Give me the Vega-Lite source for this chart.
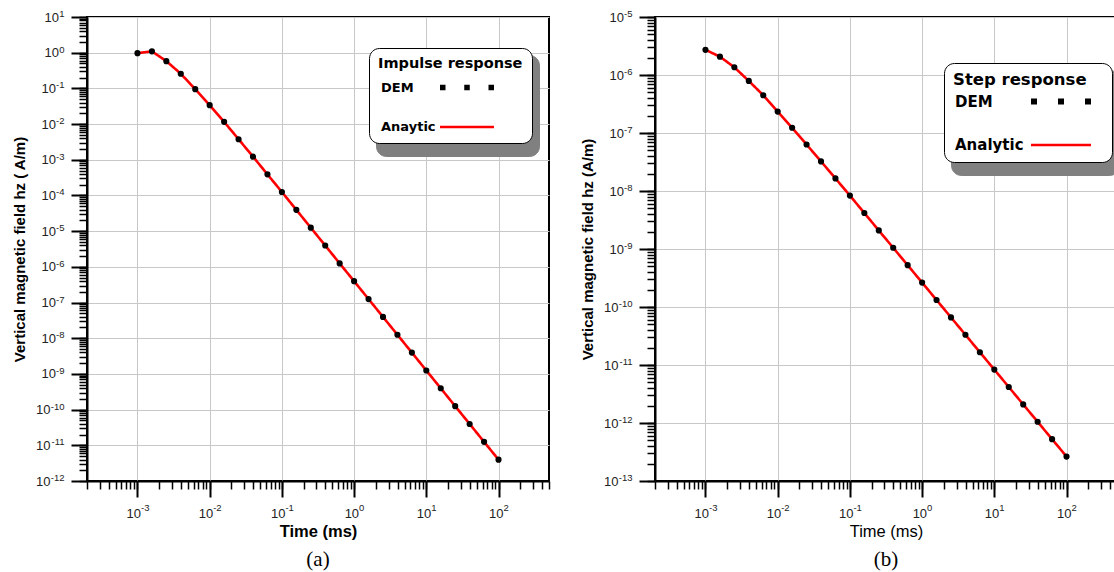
{
  "$schema": "https://vega.github.io/schema/vega-lite/v6.json",
  "autosize": {"type": "pad"},
  "padding": {"left": 11, "top": 7, "right": 0, "bottom": 0},
  "bounds": "flush",
  "spacing": 106,
  "background": "white",
  "resolve": {
    "scale": {"color": "independent", "opacity": "independent", "strokeDash": "independent", "strokeWidth": "independent"},
    "legend": {"color": "independent", "opacity": "independent", "strokeDash": "independent", "strokeWidth": "independent"}
  },
  "config": {
    "view": {"stroke": "black", "strokeWidth": 2},
    "font": "Liberation Sans",
    "axis": {
      "domainColor": "black",
      "domainWidth": 2,
      "tickColor": "black",
      "gridColor": "#c8c8c8",
      "gridWidth": 1,
      "labelFont": "Liberation Sans",
      "labelFontSize": 13,
      "labelColor": "#222222",
      "titleFont": "Liberation Sans",
      "titleColor": "black",
      "labelOverlap": false,
      "labelFlush": false,
      "labelBound": false
    },
    "legend": {
      "orient": "none",
      "cornerRadius": 10,
      "padding": 9,
      "titleFont": "DejaVu Sans",
      "titleFontWeight": "bold",
      "titleLimit": 400,
      "labelFont": "DejaVu Sans",
      "labelFontWeight": "bold",
      "labelLimit": 300,
      "symbolType": "stroke"
    }
  },
  "datasets": {
    "impulse": [
      {"t": 0.001, "h": 0.97},
      {"t": 0.001585, "h": 1.09},
      {"t": 0.002512, "h": 0.58},
      {"t": 0.003981, "h": 0.257},
      {"t": 0.00631, "h": 0.0953},
      {"t": 0.01, "h": 0.0339},
      {"t": 0.01585, "h": 0.01153},
      {"t": 0.02512, "h": 0.00376},
      {"t": 0.03981, "h": 0.001225},
      {"t": 0.0631, "h": 0.00039},
      {"t": 0.1, "h": 0.000125},
      {"t": 0.1585, "h": 3.96e-5},
      {"t": 0.2512, "h": 1.25e-5},
      {"t": 0.3981, "h": 3.96e-6},
      {"t": 0.631, "h": 1.25e-6},
      {"t": 1, "h": 3.96e-7},
      {"t": 1.585, "h": 1.25e-7},
      {"t": 2.512, "h": 3.96e-8},
      {"t": 3.981, "h": 1.25e-8},
      {"t": 6.31, "h": 3.96e-9},
      {"t": 10, "h": 1.25e-9},
      {"t": 15.85, "h": 3.96e-10},
      {"t": 25.12, "h": 1.25e-10},
      {"t": 39.81, "h": 3.96e-11},
      {"t": 63.1, "h": 1.25e-11},
      {"t": 100, "h": 3.96e-12}
    ],
    "step": [
      {"t": 0.001, "h": 2.72e-6},
      {"t": 0.001585, "h": 2.07e-6},
      {"t": 0.002512, "h": 1.36e-6},
      {"t": 0.003981, "h": 7.9e-7},
      {"t": 0.00631, "h": 4.48e-7},
      {"t": 0.01, "h": 2.34e-7},
      {"t": 0.01585, "h": 1.23e-7},
      {"t": 0.02512, "h": 6.34e-8},
      {"t": 0.03981, "h": 3.24e-8},
      {"t": 0.0631, "h": 1.65e-8},
      {"t": 0.1, "h": 8.34e-9},
      {"t": 0.1585, "h": 4.18e-9},
      {"t": 0.2512, "h": 2.09e-9},
      {"t": 0.3981, "h": 1.05e-9},
      {"t": 0.631, "h": 5.26e-10},
      {"t": 1, "h": 2.64e-10},
      {"t": 1.585, "h": 1.32e-10},
      {"t": 2.512, "h": 6.62e-11},
      {"t": 3.981, "h": 3.32e-11},
      {"t": 6.31, "h": 1.66e-11},
      {"t": 10, "h": 8.34e-12},
      {"t": 15.85, "h": 4.18e-12},
      {"t": 25.12, "h": 2.09e-12},
      {"t": 39.81, "h": 1.05e-12},
      {"t": 63.1, "h": 5.26e-13},
      {"t": 100, "h": 2.64e-13}
    ]
  },
  "hconcat": [
    {
      "width": 462,
      "height": 464,
      "title": {"text": "(a)", "orient": "bottom", "anchor": "middle", "font": "Liberation Serif", "fontSize": 21, "fontWeight": "normal", "color": "black", "offset": 9},
      "data": {"name": "impulse"},
      "resolve": {"axis": {"x": "independent", "y": "independent"}},
      "layer": [
        {
          "mark": {"type": "line", "strokeCap": "round"},
          "encoding": {
            "x": {
              "field": "t", "type": "quantitative",
              "scale": {"type": "log", "domain": [0.0002, 500], "nice": false},
              "axis": {
                "orient": "bottom", "values": [0.001, 0.01, 0.1, 1, 10, 100],
                "grid": true, "tickSize": 16, "tickWidth": 2,
                "labelExpr": "'10'", "labelAlign": "right", "labelPadding": 10,
                "labelOffset": {"condition": {"test": "datum.value >= 1", "value": 4.5}, "value": 3},
                "title": "Time (ms)", "titleFontSize": 16.5, "titleFontWeight": "bold", "titlePadding": 3
              }
            },
            "y": {
              "field": "h", "type": "quantitative",
              "scale": {"type": "log", "domain": [1e-12, 10], "nice": false},
              "axis": {
                "orient": "left",
                "values": [1e-12, 1e-11, 1e-10, 1e-9, 1e-8, 1e-7, 1e-6, 1e-5, 1e-4, 1e-3, 1e-2, 1e-1, 1, 10],
                "grid": true, "tickSize": 16, "tickWidth": 2,
                "labelExpr": "'10'", "labelAlign": "right", "labelBaseline": "middle",
                "labelPadding": {"condition": [{"test": "datum.value >= 1", "value": 12.5}, {"test": "datum.value < 5e-10", "value": 21}], "value": 15.6},
                "title": "Vertical magnetic field hz ( A/m)", "titleFontSize": 15, "titleFontWeight": "bold", "titlePadding": 8
              }
            },
            "color": {
              "datum": "Anaytic", "type": "nominal",
              "scale": {"domain": ["DEM", "Anaytic"], "range": ["black", "red"]},
              "legend": {
                "title": "Impulse response", "legendX": 282, "legendY": 31, "zindex": 2,
                "fillColor": "white", "strokeColor": "black",
                "titleFontSize": 14.5, "titleColor": "black", "titlePadding": -14, "labelFontSize": 13, "labelColor": "black",
                "symbolSize": 2916, "symbolOffset": 59, "labelOffset": -116, "symbolOpacity": 1, "rowPadding": -19
              }
            },
            "strokeDash": {
              "datum": "Anaytic", "type": "nominal",
              "scale": {"domain": ["DEM", "Anaytic"], "range": [[5.5, 18.75], [1, 0]]},
              "legend": {
                "title": "Impulse response", "legendX": 282, "legendY": 31, "zindex": 2,
                "fillColor": "white", "strokeColor": "black",
                "titleFontSize": 14.5, "titleColor": "black", "titlePadding": -14, "labelFontSize": 13, "labelColor": "black",
                "symbolSize": 2916, "symbolOffset": 59, "labelOffset": -116, "symbolOpacity": 1, "rowPadding": -19
              }
            },
            "strokeWidth": {
              "datum": "Anaytic", "type": "ordinal",
              "scale": {"type": "point", "domain": ["DEM", "Anaytic"], "range": [5.5, 2.6], "padding": 0},
              "legend": {
                "title": "Impulse response", "legendX": 282, "legendY": 31, "zindex": 2,
                "fillColor": "white", "strokeColor": "black",
                "titleFontSize": 14.5, "titleColor": "black", "titlePadding": -14, "labelFontSize": 13, "labelColor": "black",
                "symbolSize": 2916, "symbolOffset": 59, "labelOffset": -116, "symbolOpacity": 1, "rowPadding": -19
              }
            },
            "opacity": {
              "datum": "Anaytic", "type": "ordinal",
              "scale": {"type": "point", "domain": ["Anaytic", "DEM"], "range": [1, 1], "padding": 0},
              "legend": {
                "title": "Impulse response", "legendX": 289, "legendY": 38, "zindex": 1,
                "fillColor": "#808080", "strokeColor": "#808080",
                "titleFontSize": 14.5, "titleColor": "rgba(0,0,0,0)", "titlePadding": -14, "labelFontSize": 13, "labelColor": "rgba(0,0,0,0)",
                "symbolSize": 2916, "symbolOffset": 59, "labelOffset": -116, "symbolStrokeColor": "#808080", "symbolStrokeWidth": 5.5, "rowPadding": -19
              }
            }
          }
        },
        {
          "mark": {"type": "point", "filled": true, "size": 38, "opacity": 1, "color": "black"},
          "encoding": {
            "x": {
              "field": "t", "type": "quantitative",
              "scale": {"type": "log", "domain": [0.0002, 500], "nice": false},
              "axis": {
                "orient": "bottom",
                "values": [2e-4, 3e-4, 4e-4, 5e-4, 6e-4, 7e-4, 8e-4, 9e-4, 1e-3, 2e-3, 3e-3, 4e-3, 5e-3, 6e-3, 7e-3, 8e-3, 9e-3, 1e-2, 2e-2, 3e-2, 4e-2, 5e-2, 6e-2, 7e-2, 8e-2, 9e-2, 0.1, 0.2, 0.3, 0.4, 0.5, 0.6, 0.7, 0.8, 0.9, 1, 2, 3, 4, 5, 6, 7, 8, 9, 10, 20, 30, 40, 50, 60, 70, 80, 90, 100, 200, 300, 400, 500],
                "grid": false, "domain": false, "tickSize": 8, "tickWidth": 1.5, "title": null,
                "labelExpr": "abs(log(datum.value) / LN10 - round(log(datum.value) / LN10)) < 0.001 ? '' + round(log(datum.value) / LN10) : ''",
                "labelFontSize": 9.5, "labelAlign": "left", "labelPadding": 13,
                "labelOffset": {"condition": {"test": "datum.value >= 1", "value": 4.5}, "value": 3}
              }
            },
            "y": {
              "field": "h", "type": "quantitative",
              "scale": {"type": "log", "domain": [1e-12, 10], "nice": false},
              "axis": {
                "orient": "left",
                "values": [1e-12, 2e-12, 3e-12, 4e-12, 5e-12, 6e-12, 7e-12, 8e-12, 9e-12, 1e-11, 2e-11, 3e-11, 4e-11, 5e-11, 6e-11, 7e-11, 8e-11, 9e-11, 1e-10, 2e-10, 3e-10, 4e-10, 5e-10, 6e-10, 7e-10, 8e-10, 9e-10, 1e-9, 2e-9, 3e-9, 4e-9, 5e-9, 6e-9, 7e-9, 8e-9, 9e-9, 1e-8, 2e-8, 3e-8, 4e-8, 5e-8, 6e-8, 7e-8, 8e-8, 9e-8, 1e-7, 2e-7, 3e-7, 4e-7, 5e-7, 6e-7, 7e-7, 8e-7, 9e-7, 1e-6, 2e-6, 3e-6, 4e-6, 5e-6, 6e-6, 7e-6, 8e-6, 9e-6, 1e-5, 2e-5, 3e-5, 4e-5, 5e-5, 6e-5, 7e-5, 8e-5, 9e-5, 1e-4, 2e-4, 3e-4, 4e-4, 5e-4, 6e-4, 7e-4, 8e-4, 9e-4, 1e-3, 2e-3, 3e-3, 4e-3, 5e-3, 6e-3, 7e-3, 8e-3, 9e-3, 1e-2, 2e-2, 3e-2, 4e-2, 5e-2, 6e-2, 7e-2, 8e-2, 9e-2, 0.1, 0.2, 0.3, 0.4, 0.5, 0.6, 0.7, 0.8, 0.9, 1, 2, 3, 4, 5, 6, 7, 8, 9, 10],
                "grid": false, "domain": false, "tickSize": 8, "tickWidth": 1.5, "title": null,
                "labelExpr": "abs(log(datum.value) / LN10 - round(log(datum.value) / LN10)) < 0.001 ? '' + round(log(datum.value) / LN10) : ''",
                "labelFontSize": 9.5, "labelAlign": "right", "labelBaseline": "middle", "labelPadding": 15, "labelOffset": -3.5
              }
            }
          }
        }
      ]
    },
    {
      "width": 462,
      "height": 464,
      "title": {"text": "(b)", "orient": "bottom", "anchor": "middle", "font": "Liberation Serif", "fontSize": 21, "fontWeight": "normal", "color": "black", "offset": 9},
      "data": {"name": "step"},
      "resolve": {"axis": {"x": "independent", "y": "independent"}},
      "layer": [
        {
          "mark": {"type": "line", "strokeCap": "round"},
          "encoding": {
            "x": {
              "field": "t", "type": "quantitative",
              "scale": {"type": "log", "domain": [0.0002, 500], "nice": false},
              "axis": {
                "orient": "bottom", "values": [0.001, 0.01, 0.1, 1, 10, 100],
                "grid": true, "tickSize": 16, "tickWidth": 2,
                "labelExpr": "'10'", "labelAlign": "right", "labelPadding": 10,
                "labelOffset": {"condition": {"test": "datum.value >= 1", "value": 4.5}, "value": 3},
                "title": "Time (ms)", "titleFontSize": 16.5, "titleFontWeight": "normal", "titlePadding": 3
              }
            },
            "y": {
              "field": "h", "type": "quantitative",
              "scale": {"type": "log", "domain": [1e-13, 1e-5], "nice": false},
              "axis": {
                "orient": "left",
                "values": [1e-13, 1e-12, 1e-11, 1e-10, 1e-9, 1e-8, 1e-7, 1e-6, 1e-5],
                "grid": true, "tickSize": 16, "tickWidth": 2,
                "labelExpr": "'10'", "labelAlign": "right", "labelBaseline": "middle",
                "labelPadding": {"condition": [{"test": "datum.value >= 1", "value": 12.5}, {"test": "datum.value < 5e-10", "value": 21}], "value": 15.6},
                "title": "Vertical magnetic field hz (A/m)", "titleFontSize": 15, "titleFontWeight": "bold", "titlePadding": 8
              }
            },
            "color": {
              "datum": "Analytic", "type": "nominal",
              "scale": {"domain": ["DEM", "Analytic"], "range": ["black", "red"]},
              "legend": {
                "title": "Step response", "legendX": 289, "legendY": 46, "zindex": 2,
                "fillColor": "white", "strokeColor": "black",
                "titleFontSize": 16.5, "titleColor": "black", "titlePadding": -20, "labelFontSize": 15, "labelColor": "black",
                "symbolSize": 3600, "symbolOffset": 75, "labelOffset": -139, "symbolOpacity": 1, "rowPadding": -22
              }
            },
            "strokeDash": {
              "datum": "Analytic", "type": "nominal",
              "scale": {"domain": ["DEM", "Analytic"], "range": [[6, 21], [1, 0]]},
              "legend": {
                "title": "Step response", "legendX": 289, "legendY": 46, "zindex": 2,
                "fillColor": "white", "strokeColor": "black",
                "titleFontSize": 16.5, "titleColor": "black", "titlePadding": -20, "labelFontSize": 15, "labelColor": "black",
                "symbolSize": 3600, "symbolOffset": 75, "labelOffset": -139, "symbolOpacity": 1, "rowPadding": -22
              }
            },
            "strokeWidth": {
              "datum": "Analytic", "type": "ordinal",
              "scale": {"type": "point", "domain": ["DEM", "Analytic"], "range": [6, 2.6], "padding": 0},
              "legend": {
                "title": "Step response", "legendX": 289, "legendY": 46, "zindex": 2,
                "fillColor": "white", "strokeColor": "black",
                "titleFontSize": 16.5, "titleColor": "black", "titlePadding": -20, "labelFontSize": 15, "labelColor": "black",
                "symbolSize": 3600, "symbolOffset": 75, "labelOffset": -139, "symbolOpacity": 1, "rowPadding": -22
              }
            },
            "opacity": {
              "datum": "Analytic", "type": "ordinal",
              "scale": {"type": "point", "domain": ["Analytic", "DEM"], "range": [1, 1], "padding": 0},
              "legend": {
                "title": "Step response", "legendX": 296, "legendY": 53, "zindex": 1,
                "fillColor": "#808080", "strokeColor": "#808080",
                "titleFontSize": 16.5, "titleColor": "rgba(0,0,0,0)", "titlePadding": -20, "labelFontSize": 15, "labelColor": "rgba(0,0,0,0)",
                "symbolSize": 3600, "symbolOffset": 75, "labelOffset": -139, "symbolStrokeColor": "#808080", "symbolStrokeWidth": 6, "rowPadding": -22
              }
            }
          }
        },
        {
          "mark": {"type": "point", "filled": true, "size": 38, "opacity": 1, "color": "black"},
          "encoding": {
            "x": {
              "field": "t", "type": "quantitative",
              "scale": {"type": "log", "domain": [0.0002, 500], "nice": false},
              "axis": {
                "orient": "bottom",
                "values": [2e-4, 3e-4, 4e-4, 5e-4, 6e-4, 7e-4, 8e-4, 9e-4, 1e-3, 2e-3, 3e-3, 4e-3, 5e-3, 6e-3, 7e-3, 8e-3, 9e-3, 1e-2, 2e-2, 3e-2, 4e-2, 5e-2, 6e-2, 7e-2, 8e-2, 9e-2, 0.1, 0.2, 0.3, 0.4, 0.5, 0.6, 0.7, 0.8, 0.9, 1, 2, 3, 4, 5, 6, 7, 8, 9, 10, 20, 30, 40, 50, 60, 70, 80, 90, 100, 200, 300, 400, 500],
                "grid": false, "domain": false, "tickSize": 8, "tickWidth": 1.5, "title": null,
                "labelExpr": "abs(log(datum.value) / LN10 - round(log(datum.value) / LN10)) < 0.001 ? '' + round(log(datum.value) / LN10) : ''",
                "labelFontSize": 9.5, "labelAlign": "left", "labelPadding": 13,
                "labelOffset": {"condition": {"test": "datum.value >= 1", "value": 4.5}, "value": 3}
              }
            },
            "y": {
              "field": "h", "type": "quantitative",
              "scale": {"type": "log", "domain": [1e-13, 1e-5], "nice": false},
              "axis": {
                "orient": "left",
                "values": [1e-13, 2e-13, 3e-13, 4e-13, 5e-13, 6e-13, 7e-13, 8e-13, 9e-13, 1e-12, 2e-12, 3e-12, 4e-12, 5e-12, 6e-12, 7e-12, 8e-12, 9e-12, 1e-11, 2e-11, 3e-11, 4e-11, 5e-11, 6e-11, 7e-11, 8e-11, 9e-11, 1e-10, 2e-10, 3e-10, 4e-10, 5e-10, 6e-10, 7e-10, 8e-10, 9e-10, 1e-9, 2e-9, 3e-9, 4e-9, 5e-9, 6e-9, 7e-9, 8e-9, 9e-9, 1e-8, 2e-8, 3e-8, 4e-8, 5e-8, 6e-8, 7e-8, 8e-8, 9e-8, 1e-7, 2e-7, 3e-7, 4e-7, 5e-7, 6e-7, 7e-7, 8e-7, 9e-7, 1e-6, 2e-6, 3e-6, 4e-6, 5e-6, 6e-6, 7e-6, 8e-6, 9e-6, 1e-5],
                "grid": false, "domain": false, "tickSize": 8, "tickWidth": 1.5, "title": null,
                "labelExpr": "abs(log(datum.value) / LN10 - round(log(datum.value) / LN10)) < 0.001 ? '' + round(log(datum.value) / LN10) : ''",
                "labelFontSize": 9.5, "labelAlign": "right", "labelBaseline": "middle", "labelPadding": 15, "labelOffset": -3.5
              }
            }
          }
        }
      ]
    }
  ]
}
